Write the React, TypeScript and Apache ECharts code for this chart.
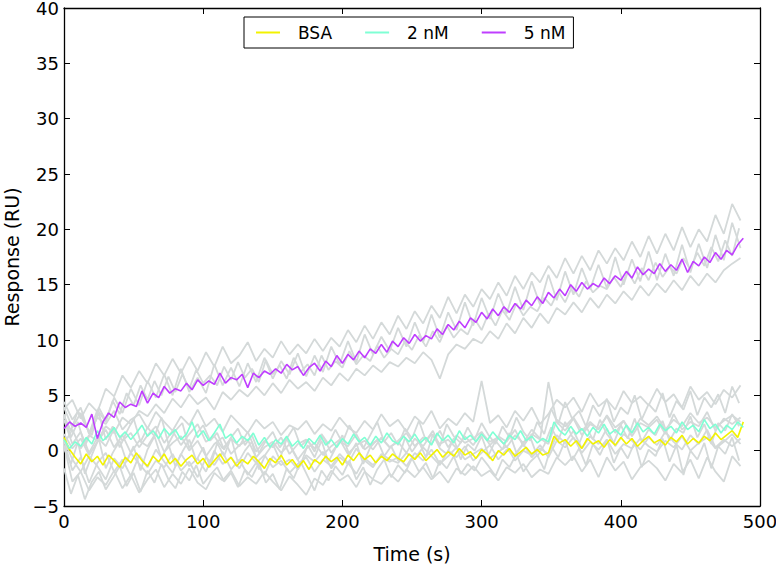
import React, { useEffect, useRef } from "react";
import * as echarts from "echarts";

const FONT = "DejaVu Sans";

// main traces sampled every 4 s
const MAIN_STEP = 4;
const bsa = [
  1.2, 0.1, -0.6, -1.2, -0.3, -1.0, -0.5, -1.3, -0.4, -0.9,
  -1.5, -0.6, -1.1, -0.2, -0.9, -1.4, -0.5, -1.0, -0.3, -1.2,
  -0.7, -1.4, -0.8, -0.4, -1.2, -0.7, -1.5, -0.9, -0.3, -1.1,
  -0.6, -1.4, -0.8, -1.2, -0.5, -1.0, -1.6, -0.7, -1.1, -0.4,
  -1.3, -0.8, -1.5, -0.9, -1.7, -0.8, -1.2, -0.5, -1.0, -0.6,
  -1.3, -0.4, -0.9, -0.2, -0.8, -0.4, -1.1, -0.5, -0.9, -0.3,
  -0.7, -1.0, -0.3, -0.8, -0.2, -0.9, -0.4, 0.1, -0.6, -0.1,
  -0.5, 0.2, -0.4, -0.1, -0.7, 0.1, -0.3, -0.9, 0.0, -0.4,
  0.2, -0.5, -0.1, 0.3, -0.3, 0.1, -0.4, -0.2, 1.3, 0.7,
  1.0, 0.4, 0.9, 0.2, 1.1, 0.6, 0.9, 0.3, 1.0, 0.5,
  1.2, 0.6, 1.1, 0.4, 0.9, 1.3, 0.7, 1.0, 0.5, 1.2,
  0.8, 1.4, 0.6, 1.1, 0.7, 1.3, 0.9, 1.6, 1.0, 1.4,
  1.8, 1.2, 2.6,
];
const nm2 = [
  1.0, 0.2, 0.8, 0.4, 1.2, 0.6, 1.8, 0.9, 1.4, 2.1,
  1.2, 1.7, 1.0, 1.6, 2.3, 1.3, 1.8, 1.1, 2.0, 1.4,
  1.9, 1.0, 1.5, 2.6, 1.2, 1.8, 0.9, 1.6, 2.4, 1.1,
  1.5, 0.7, 1.3, 0.9, 1.6, 0.5, 1.2, 0.3, 1.0, 0.6,
  1.3, 0.4, 0.9, 0.2, 1.1, 0.6, 1.4, 0.5, 1.0, 0.3,
  1.1, 0.6, 1.5, 0.8, 1.2, 0.5, 1.3, 0.7, 1.6, 0.9,
  0.6, 1.3, 0.8, 1.5, 0.7, 1.2, 0.5, 1.6, 0.9, 1.4,
  0.7, 1.8, 1.0, 1.4, 0.8, 1.5, 0.9, 1.7, 1.1, 0.6,
  1.4, 1.0, 1.8, 0.9, 1.3, 0.7, 1.1, 0.8, 2.6, 1.8,
  1.4, 2.2, 1.5, 2.0, 1.3, 2.1, 1.6, 2.4, 1.5, 1.9,
  1.4, 2.3, 1.6, 2.5, 1.7, 2.1, 1.5, 2.4, 1.8, 2.2,
  1.6, 2.6, 1.9, 2.3, 1.7, 2.8, 2.0, 2.4, 1.6, 2.3,
  1.9, 2.6, 2.1,
];
const nm5 = [
  2.0, 2.6, 2.2, 2.5, 2.1, 3.3, 1.1, 2.6, 3.4, 3.0,
  4.4, 3.9, 4.2, 4.0, 5.4, 4.3, 5.2, 4.8, 5.8, 5.2,
  5.6, 5.4, 6.1, 5.5, 6.4, 5.9, 6.3, 6.0, 7.0, 6.1,
  6.6, 6.4, 6.9, 5.7, 7.0, 6.6, 7.2, 6.9, 7.4, 7.0,
  7.8, 7.3, 7.6, 6.8, 7.5, 7.9, 7.2, 8.1, 7.6, 8.6,
  7.9, 8.7, 8.2, 9.0, 8.4, 9.2, 8.8, 9.6, 8.9, 9.9,
  9.4, 10.2, 9.7, 10.5, 9.9, 10.4, 10.1, 11.0, 10.5, 11.4,
  10.9, 11.7, 11.1, 12.0, 11.6, 12.5, 11.9, 12.8, 12.2, 13.0,
  12.5, 13.3, 12.8, 13.6, 13.1, 13.9, 13.3, 14.3, 13.8, 14.6,
  14.0, 15.0, 14.4, 15.2, 14.6, 15.1, 14.8, 15.6, 15.1, 15.8,
  15.4, 16.2, 15.6, 16.6, 15.9, 16.4, 16.0, 16.9, 16.2, 16.8,
  16.3, 17.3, 16.1, 17.1, 16.7, 17.5, 17.0, 17.9, 17.3, 18.1,
  17.7, 18.6, 19.2,
];

// individual replicate traces (grey) sampled every 6 s
const REP_STEP = 6;
const rep5a = [
  3.8, 4.6, 2.9, 4.3, 3.5, 5.6, 4.9, 6.8, 5.7, 7.2,
  6.1, 7.9, 6.8, 8.3, 7.0, 8.5, 7.2, 8.9, 7.6, 9.4,
  7.9, 8.6, 9.8, 8.1, 9.2, 8.4, 9.9, 8.7, 9.6, 8.8,
  10.1, 9.0, 10.2, 9.4, 10.9, 9.8, 11.3, 10.1, 11.6, 10.5,
  12.2, 11.0, 12.6, 11.5, 13.1, 12.0, 13.9, 12.4, 14.1, 13.0,
  14.6, 13.7, 15.2, 14.0, 15.8, 14.6, 16.1, 15.2, 16.7, 15.6,
  17.4, 16.0, 17.6, 16.3, 18.1, 16.9, 18.3, 17.2, 18.9, 17.5,
  19.4, 17.8, 19.6, 18.1, 20.2, 18.4, 20.0, 18.9, 21.3, 19.6,
  22.3, 20.8,
];
const rep5b = [
  0.6, 1.9, 0.2, 1.4, 0.9, 2.2, 1.6, 3.0, 2.4, 3.6,
  3.1, 4.2, 3.4, 4.7, 3.9, 5.1, 4.2, 4.8, 3.7, 5.3,
  4.6, 5.5, 4.9, 5.8, 5.0, 6.1, 5.2, 6.4, 5.6, 6.2,
  5.4, 6.6, 5.9, 7.0, 6.3, 7.4, 6.8, 7.7, 7.1, 8.0,
  7.6, 8.4, 7.9, 8.9, 8.2, 6.5, 8.7, 9.6, 9.2, 10.1,
  9.7, 10.8, 10.1, 11.5, 10.6, 12.0, 11.1, 12.4, 11.5, 12.9,
  12.3, 13.4, 12.5, 13.8, 12.9, 14.1, 13.3, 14.4, 13.6, 14.9,
  14.0, 15.1, 14.3, 15.4, 14.5, 15.8, 14.9, 16.0, 15.2, 16.3,
  16.9, 17.4,
];
const rep5c = [
  4.4, 2.8, 3.9, 1.5, 3.7, 2.6, 4.8, 3.4, 5.6, 4.1,
  6.3, 4.8, 6.9, 5.0, 7.4, 5.3, 6.6, 5.2, 7.8, 5.9,
  7.5, 5.8, 7.9, 6.2, 8.4, 6.5, 8.1, 6.9, 8.8, 6.7,
  8.6, 7.1, 9.4, 7.8, 9.9, 8.0, 10.5, 8.7, 10.3, 9.0,
  11.1, 9.4, 11.6, 9.8, 12.3, 10.2, 12.5, 10.9, 13.4, 11.3,
  13.8, 11.9, 14.2, 12.4, 14.8, 12.7, 15.3, 13.2, 15.9, 13.6,
  16.2, 14.1, 16.5, 14.6, 16.8, 14.7, 17.5, 15.0, 17.3, 15.3,
  18.0, 15.4, 17.8, 15.8, 18.6, 16.1, 18.7, 16.5, 19.5, 17.2,
  20.6, 18.3,
];
const repLowA = [
  0.5, -2.8, -1.9, -3.6, -2.4, -3.1, -1.8, -3.4, -2.2, -3.8,
  -2.6, -1.7, -3.3, -2.1, -3.0, -1.6, -2.9, -3.5, -2.0, -2.7,
  -1.8, -3.2, -2.4, -3.0, -1.9, -2.8, -3.6, -2.3, -3.1, -4.0,
  -2.5, -3.1, -1.8, -2.7, -2.2, -3.3, -1.9, -2.6, -3.0, -2.1,
  -2.8, -1.7, -2.4, -1.5, -2.6, -1.9, -2.9, -1.6, -2.2, -1.4,
  -2.3, -1.8, -2.7, -1.5, -2.0, -1.2, -2.4, -1.7, -2.1, -0.6,
  -1.3, -0.5, -1.9, -0.8, -2.4, -0.6, -1.8, -1.0, -2.6, -1.5,
  -0.9, -1.6, -2.7, -1.2, -2.0, -0.8, -2.5, -0.6, -1.9, -2.8,
  -0.5, -1.4,
];
const repLowB = [
  1.5, 0.2, 1.1, -0.4, 0.8, 1.9, 0.3, 1.4, -0.2, 0.9,
  0.4, 1.6, -0.1, 0.7, 1.3, 0.0, 0.9, -0.5, 0.6, 1.2,
  -0.3, 0.5, 1.0, -0.6, 0.3, 0.8, -0.2, 0.6, -0.8, 0.2,
  0.7, -0.4, 0.4, 1.0, -0.3, 0.5, 0.9, 0.1, 1.2, 0.3,
  0.8, -0.2, 1.1, 0.4, 1.5, 0.6, 1.0, 0.2, 1.3, 0.5,
  1.6, 0.8, 1.2, 0.3, 1.4, 0.7, 1.9, 1.1, 0.6, 2.8,
  2.2, 3.0, 1.8, 2.6, 1.9, 3.2, 2.1, 2.7, 1.6, 2.9,
  2.3, 3.1, 1.9, 2.8, 2.2, 3.4, 2.5, 3.0, 2.1, 2.7,
  3.2, 2.6,
];
const repLowC = [
  1.0, -0.8, -1.9, -0.5, -1.4, -2.6, -0.7, -1.6, -0.2, -1.2,
  -2.1, -0.9, -1.5, -0.3, -1.8, -1.0, -2.4, -0.6, -1.3, -0.1,
  -1.7, -0.8, -2.2, -1.1, -0.4, -1.5, -0.9, -2.0, -1.2, -0.6,
  -1.9, -0.8, -1.4, -0.3, -1.1, -2.1, -0.7, -1.3, -0.5, -1.0,
  -0.6, -1.4, -0.2, -0.9, 0.1, -1.2, -0.5, 0.3, -0.8, -0.3,
  0.2, -0.7, -0.1, 0.4, -0.9, 0.0, -0.4, 0.5, -0.6, 0.9,
  0.3, 1.2, -0.2, 0.8, 0.1, 1.0, -0.3, 0.6, 0.2, 1.1,
  0.4, -0.1, 0.9, 0.3, 1.3, 0.0, 0.7, 1.2, 0.2, 0.8,
  1.5, 0.6,
];
const repLowD = [
  3.9, 2.1, 3.4, 1.6, 3.0, 2.4, 3.6, 1.9, 2.8, 3.3,
  2.0, 3.5, 2.6, 1.8, 3.1, 2.3, 3.7, 2.2, 2.9, 1.7,
  3.2, 2.4, 1.6, 2.8, 2.0, 2.6, 1.4, 2.3, 1.9, 2.7,
  1.5, 2.4, 1.8, 3.0, 2.1, 1.6, 2.7, 1.9, 3.3, 2.2,
  2.8, 1.7, 3.1, 2.4, 3.6, 2.0, 2.9, 2.3, 3.4, 2.6,
  6.3, 2.5, 3.2, 2.1, 3.6, 2.7, 3.9, 2.4, 3.3, 4.6,
  3.9, 4.8, 3.5, 5.2, 4.0, 4.6, 3.7, 5.4, 4.3, 4.9,
  4.1, 5.6, 4.4, 5.1, 3.9, 5.8, 4.6, 5.3, 4.2, 5.5,
  4.8, 5.9,
];
const repLowE = [
  2.8, 0.6, 1.7, -0.2, 1.2, 0.4, 2.0, 0.9, 1.6, 0.3,
  1.4, 2.2, 0.7, 1.8, 0.5, 1.5, 2.4, 0.8, 1.3, 0.2,
  1.1, 0.4, 1.7, -0.1, 0.9, 0.3, 1.2, -0.3, 0.6, 1.0,
  0.2, 1.3, -0.2, 0.8, 0.4, 1.5, 0.1, 0.7, 1.1, 0.3,
  0.9, 1.6, 0.4, 1.2, 0.6, 1.8, 0.3, 1.4, 0.7, 1.1,
  1.7, 0.5, 1.3, 0.8, 1.9, 0.4, 1.5, 1.0, 6.2, 2.6,
  1.8, 2.9, 1.4, 2.4, 2.0, 3.1, 1.6, 2.7, 1.3, 2.5,
  2.1, 2.8, 1.5, 3.3, 1.9, 2.6, 2.2, 3.5, 1.8, 2.9,
  2.4, 3.0,
];
const repLowF = [
  0.9, -1.8, -0.6, -2.9, -1.1, -0.2, -1.9, -0.8, -2.3, -0.4,
  -1.5, 0.1, -1.0, -2.0, -0.3, -1.4, -0.7, -1.9, 0.0, -1.2,
  -0.6, -1.6, -0.2, -1.1, -2.2, -0.5, -1.3, -0.8, -1.7, -0.4,
  -1.0, -0.1, -1.6, -0.6, -1.2, 0.2, -0.9, -1.5, -0.3, -0.8,
  -1.1, -0.2, -0.7, 0.3, -0.5, -1.3, 0.0, -0.6, 0.4, -0.9,
  -0.2, 0.5, -0.8, 0.1, -0.4, 0.6, -0.6, 0.2, -0.3, 1.4,
  0.7, 1.8, 0.2, 1.3, 0.6, 2.0, 0.4, 1.5, 0.9, 0.1,
  1.2, 0.5, 1.7, 0.8, 0.1, 1.4, 0.6, 1.9, 0.3, 1.0,
  0.4, 1.1,
];

// extra replicate traces sampled every 5 s
const REP2_STEP = 5;
const repLowG = [
  -1.6, -3.9, -2.2, -4.4, -2.8, -1.9, -3.5, -2.5, -1.4, -3.2,
  -2.0, -3.7, -1.8, -2.9, -1.2, -2.6, -3.4, -1.9, -2.7, -1.3,
  -3.0, -2.2, -1.5, -2.8, -2.0, -3.3, -1.7, -2.4, -1.1, -2.9,
  -2.1, -3.5, -1.6, -2.5, -1.0, -2.3, -3.6, -1.8, -2.7, -1.4,
  -2.2, -0.9, -2.6, -1.5, -3.1, -1.7, -0.8, -2.4, -1.3, -2.0,
  -0.7, -1.9, -1.1, -2.5, -0.9, -1.6, -0.5, -2.1, -1.2, -1.8,
  -0.6, -1.4, -2.3, -0.8, -1.5, -0.3, -1.9, -1.0, -0.4, -1.7,
  0.4, -0.6, 0.9, -0.9, 0.2, -1.3, 0.6, -0.4, 1.0, -1.1,
  0.3, -0.7, 0.8, -1.5, 0.1, -0.5, 1.1, -1.0, 0.5, -2.2,
  0.0, -0.8, 0.7, -1.6, 0.4, -0.3, 1.2, -0.9,
];
const repLowH = [
  3.3, 1.2, 2.6, 0.4, 1.9, 3.4, 1.0, 2.2, 0.3, 1.7,
  2.9, 0.8, 2.1, 1.3, 3.0, 0.6, 1.8, 2.5, 0.2, 1.5,
  2.3, 0.9, 1.6, 0.1, 1.2, 2.0, 0.5, 1.4, -0.2, 0.9,
  1.7, 0.3, 1.1, 2.1, 0.4, 1.0, -0.1, 1.5, 0.6, 1.9,
  0.7, 2.3, 1.2, 0.2, 1.4, 2.6, 0.8, 1.6, 0.5, 2.0,
  1.1, 2.7, 0.9, 1.8, 0.4, 2.4, 1.3, 0.7, 2.1, 1.0,
  2.5, 1.4, 0.6, 2.2, 1.2, 3.0, 1.7, 0.9, 2.6, 1.5,
  3.8, 2.4, 4.4, 2.9, 3.6, 2.2, 4.1, 3.1, 4.7, 2.6,
  3.9, 3.3, 5.0, 2.8, 4.2, 3.5, 5.2, 3.0, 4.5, 3.7,
  5.4, 3.2, 4.8, 3.9, 5.1, 3.4, 5.8, 4.3,
];
const repLowI = [
  0.2, -1.2, 0.8, -2.1, -0.4, 1.1, -1.6, -0.2, 0.9, -1.0,
  0.4, -1.8, 0.1, 1.3, -0.7, 0.6, -1.4, -0.1, 1.0, -0.9,
  0.3, -1.5, 0.7, -0.5, 1.2, -1.1, 0.0, 0.8, -1.7, -0.3,
  0.6, -0.8, 1.1, -0.2, -1.3, 0.5, -0.6, 0.9, -1.0, 0.2,
  1.4, -0.4, 0.7, -1.2, 0.3, 1.0, -0.5, 0.4, -0.9, 1.2,
  -0.1, 0.8, -0.6, 1.5, 0.2, -0.3, 1.1, -0.8, 0.6, 0.0,
  1.3, -0.4, 0.9, 0.1, 1.6, -0.2, 0.7, 1.2, -0.5, 0.5,
  2.1, 0.9, 2.6, 1.3, 0.6, 2.2, 1.0, 2.8, 1.5, 0.7,
  2.3, 1.1, 2.9, 0.8, 1.9, 1.4, 2.7, 0.9, 2.0, 1.6,
  3.1, 1.2, 2.4, 0.6, 2.5, 1.8, 3.3, 2.2,
];
const rep5d = [
  3.1, 1.8, 3.6, 2.4, 1.4, 3.9, 2.7, 4.5, 3.3, 5.2,
  4.1, 5.9, 4.6, 6.3, 5.0, 6.7, 5.3, 6.9, 5.6, 7.3,
  6.1, 6.8, 5.9, 7.6, 6.4, 8.0, 6.6, 7.4, 6.2, 8.2,
  6.9, 7.7, 6.5, 8.4, 7.1, 7.8, 6.8, 8.6, 7.3, 8.1,
  7.5, 9.0, 7.8, 8.6, 8.1, 9.5, 8.4, 9.2, 8.7, 9.9,
  9.1, 10.4, 9.4, 10.8, 9.8, 11.3, 10.2, 11.0, 10.5, 11.9,
  10.9, 12.4, 11.3, 12.7, 11.8, 13.3, 12.2, 13.0, 12.6, 13.8,
  13.1, 14.4, 13.4, 14.8, 13.9, 15.3, 14.3, 14.9, 14.6, 15.7,
  14.8, 16.2, 15.1, 16.5, 15.4, 17.0, 15.7, 16.6, 16.0, 17.4,
  16.4, 17.9, 16.7, 18.4, 17.1, 19.0, 17.6, 20.1,
];

const replicates: [number[], number][] = [
  [repLowA, REP_STEP], [repLowB, REP_STEP], [repLowC, REP_STEP],
  [repLowD, REP_STEP], [repLowE, REP_STEP], [repLowF, REP_STEP],
  [repLowG, REP2_STEP], [repLowH, REP2_STEP], [repLowI, REP2_STEP],
  [rep5a, REP_STEP], [rep5b, REP_STEP], [rep5c, REP_STEP], [rep5d, REP2_STEP],
];
const mainNames = ["BSA", "2 nM", "5 nM"];
const mainValues = [bsa, nm2, nm5];
const mainColors = ["#f2f200", "#7fffd4", "#bf3eff"];
const GREY = "#d4d9d9";

const xTicks = { min: 0, max: 500, interval: 100 };
const yTicks = { min: -5, max: 40, interval: 5 };

const toPairs = (vals: number[], step: number) => vals.map((v, i) => [i * step, v]);
const fmt = (v: number) => String(v).replace("-", "\u2212");

export default function App() {
  const ref = useRef<HTMLDivElement>(null);
  useEffect(() => {
    if (!ref.current) return;
    const chart = echarts.init(ref.current, undefined, { renderer: "svg" });
    const axisCommon = {
      axisLine: { show: true, onZero: false, lineStyle: { color: "#000", width: 1.3 } },
      axisTick: { show: true, inside: true, length: 6, lineStyle: { color: "#000", width: 1 } },
      splitLine: { show: false },
    };
    const series: any[] = [];
    replicates.forEach(([r, step], i) => {
      series.push({
        name: "rep" + i,
        type: "line",
        data: toPairs(r, step),
        symbol: "none",
        showSymbol: false,
        lineStyle: { color: GREY, width: 1.8 },
        itemStyle: { color: GREY },
        z: 1,
        silent: true,
      });
    });
    mainValues.forEach((vals, i) => {
      series.push({
        name: mainNames[i],
        type: "line",
        data: toPairs(vals, MAIN_STEP),
        symbol: "none",
        showSymbol: false,
        lineStyle: { color: mainColors[i], width: 1.6 },
        itemStyle: { color: mainColors[i] },
        z: 3,
      });
    });
    chart.setOption({
      animation: false,
      backgroundColor: "#fff",
      grid: { left: 64, right: 16, top: 8, bottom: 64, containLabel: false, outerBoundsMode: "none" },
      legend: {
        data: mainNames,
        icon: "rect",
        left: 244,
        top: 17,
        padding: [7, 8, 7, 12],
        itemWidth: 24,
        itemHeight: 2,
        itemGap: 33,
        borderColor: "#000",
        borderWidth: 1,
        borderRadius: 0,
        backgroundColor: "#fff",
        textStyle: { fontFamily: FONT, fontSize: 17, color: "#000", padding: [0, 0, 0, 13] },
      },
      xAxis: [
        {
          type: "value",
          ...xTicks,
          ...axisCommon,
          name: "Time (s)",
          nameLocation: "middle",
          nameGap: 38,
          nameTextStyle: { fontFamily: FONT, fontSize: 19, color: "#000" },
          axisLabel: { fontFamily: FONT, fontSize: 18, color: "#000", margin: 6, formatter: fmt },
        },
        {
          type: "value",
          position: "top",
          ...xTicks,
          ...axisCommon,
          axisLabel: { show: false },
        },
      ],
      yAxis: [
        {
          type: "value",
          ...yTicks,
          ...axisCommon,
          name: "Response (RU)",
          nameLocation: "middle",
          nameGap: 43,
          nameTextStyle: { fontFamily: FONT, fontSize: 19, color: "#000" },
          axisLabel: { fontFamily: FONT, fontSize: 18, lineHeight: 15, color: "#000", margin: 5, formatter: fmt },
        },
        {
          type: "value",
          position: "right",
          ...yTicks,
          ...axisCommon,
          axisLabel: { show: false },
        },
      ],
      series,
    });
    return () => chart.dispose();
  }, []);
  return <div ref={ref} style={{ width: 776, height: 570, position: "absolute", left: 0, top: 0 }} />;
}
